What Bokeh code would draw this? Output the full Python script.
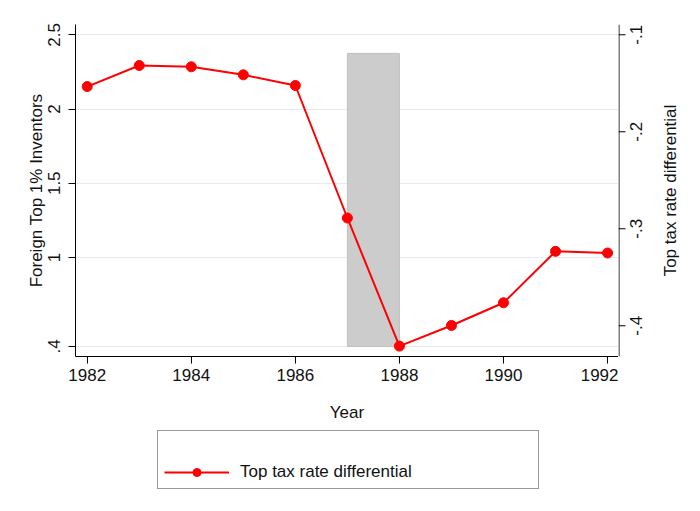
import math
from bokeh.plotting import figure
from bokeh.layouts import column, row
from bokeh.models import Range1d, FixedTicker, Legend, LegendItem
from bokeh.core.properties import value
from bokeh.embed import file_html
from bokeh.resources import INLINE

# ---- data ----
years = [1982, 1983, 1984, 1985, 1986, 1987, 1988, 1989, 1990, 1991, 1992]
tax_diff = [-0.1534, -0.1317, -0.1330, -0.1413, -0.1523, -0.2889,
            -0.4210, -0.3997, -0.3763, -0.3233, -0.3250]
shade_left = [1987]
shade_right = [1988]
shade_bottom = [0.4]
shade_top = [2.375]

left_ticks = [0.4, 1, 1.5, 2, 2.5]
left_labels = [".4", "1", "1.5", "2", "2.5"]
right_ticks = [-0.4, -0.3, -0.2, -0.1]
right_labels = ["-.4", "-.3", "-.2", "-.1"]
x_ticks = [1982, 1984, 1986, 1988, 1990, 1992]
right_title = "Top tax rate differential"
series_name = "Top tax rate differential"

FONT = "Liberation Sans"
FS = "17px"
TXT = "#111111"

x_rng = Range1d(1981.775, 1992.21)
tax_rng = Range1d(-0.4317, -0.0894)

# ---------------- main plot ----------------
p = figure(frame_width=543, frame_height=332, output_backend="svg", toolbar_location=None,
           x_range=x_rng, y_range=Range1d(0.3324, 2.5696),
           min_border=0, min_border_left=75, min_border_top=24, min_border_right=0,
           min_border_bottom=73)
p.extra_y_ranges = {"tax": tax_rng}
p.outline_line_color = None
p.background_fill_color = "white"
p.border_fill_color = "white"

p.xgrid.visible = False
p.ygrid.ticker = FixedTicker(ticks=left_ticks)
p.ygrid.grid_line_color = "#e4eef0"
p.ygrid.grid_line_width = 1

def style_axis(ax):
    ax.axis_line_color = "black"
    ax.major_tick_line_color = "black"
    ax.major_tick_out = 7
    ax.major_tick_in = 0
    ax.minor_tick_line_color = None
    ax.major_label_text_font = FONT
    ax.major_label_text_font_size = FS
    ax.major_label_text_color = TXT
    ax.axis_label_text_font = FONT
    ax.axis_label_text_font_size = FS
    ax.axis_label_text_font_style = "normal"
    ax.axis_label_text_color = TXT

xa = p.xaxis[0]
style_axis(xa)
xa.ticker = FixedTicker(ticks=x_ticks)
xa.axis_label = "Year"
xa.major_label_standoff = 5
xa.axis_label_standoff = 19

ya = p.yaxis[0]
style_axis(ya)
ya.ticker = FixedTicker(ticks=left_ticks)
ya.major_label_overrides = {t: l for t, l in zip(left_ticks, left_labels)}
ya.major_label_orientation = "vertical"
ya.axis_label = "Foreign Top 1% Inventors"
ya.major_label_standoff = 8
ya.axis_label_standoff = 0

p.quad(left=shade_left, right=shade_right, bottom=shade_bottom, top=shade_top,
       fill_color="#cccccc", line_color="#c0c0c0", line_width=1)

p.line(years, tax_diff, y_range_name="tax", line_color="red", line_width=2)
p.scatter(years, tax_diff, y_range_name="tax", size=10,
          fill_color="red", line_color="red")

# ---------------- right-axis panel (reads bottom-to-top like the original) ----------------
pr = figure(frame_width=66, frame_height=332, output_backend="svg", toolbar_location=None,
            x_range=Range1d(0, 66), y_range=tax_rng,
            x_axis_location=None, y_axis_location=None,
            min_border=0, min_border_top=24, min_border_bottom=73)
pr.outline_line_color = None
pr.grid.visible = False
pr.background_fill_color = "white"
pr.border_fill_color = "white"
# axis line and ticks
pr.segment(x0=[0.5], y0=[tax_rng.start], x1=[0.5], y1=[tax_rng.end],
           line_color="black", line_width=1)
pr.segment(x0=[0] * len(right_ticks), y0=right_ticks, x1=[7] * len(right_ticks), y1=right_ticks,
           line_color="black", line_width=1)
pr.text(x=[0] * len(right_ticks), y=right_ticks, text=right_labels, x_offset=17,
        angle=math.pi / 2, text_align="center", text_baseline="middle",
        text_font=value(FONT), text_font_size=FS, text_color=TXT)
pr.text(x=[0], y=[(tax_rng.start + tax_rng.end) / 2], text=[right_title], x_offset=52,
        angle=math.pi / 2, text_align="center", text_baseline="middle",
        text_font=value(FONT), text_font_size=FS, text_color=TXT)

# ---------------- legend panel ----------------
pl = figure(frame_width=684, frame_height=64, output_backend="svg", toolbar_location=None,
            x_range=Range1d(x_rng.start, x_rng.end), y_range=Range1d(tax_rng.start, tax_rng.end),
            x_axis_location=None, y_axis_location=None, min_border=0)
pl.outline_line_color = None
pl.grid.visible = False
pl.background_fill_color = "white"
pl.border_fill_color = "white"
lg_line = pl.line(years, tax_diff, line_color="red", line_width=2, visible=False)
lg_pts = pl.scatter(years, tax_diff, size=9, fill_color="red", line_color="red", visible=False)
lg_blank = pl.scatter(years[:1], tax_diff[:1], size=1, fill_alpha=0, line_alpha=0, visible=False)

legend = Legend(items=[LegendItem(label=" ", renderers=[lg_blank]),
                       LegendItem(label=series_name, renderers=[lg_line, lg_pts])],
                location=(157, 4), orientation="vertical",
                padding=6, spacing=5, margin=0,
                glyph_width=65, glyph_height=20, label_height=20,
                label_width=292, label_standoff=11,
                label_text_font=FONT, label_text_font_size=FS,
                label_text_color=TXT,
                border_line_color="#333333", border_line_width=1,
                background_fill_color="white", background_fill_alpha=1)
pl.add_layout(legend, "center")

layout = column(row(p, pr), pl)
open("out.html", "w").write(file_html(layout, INLINE))
